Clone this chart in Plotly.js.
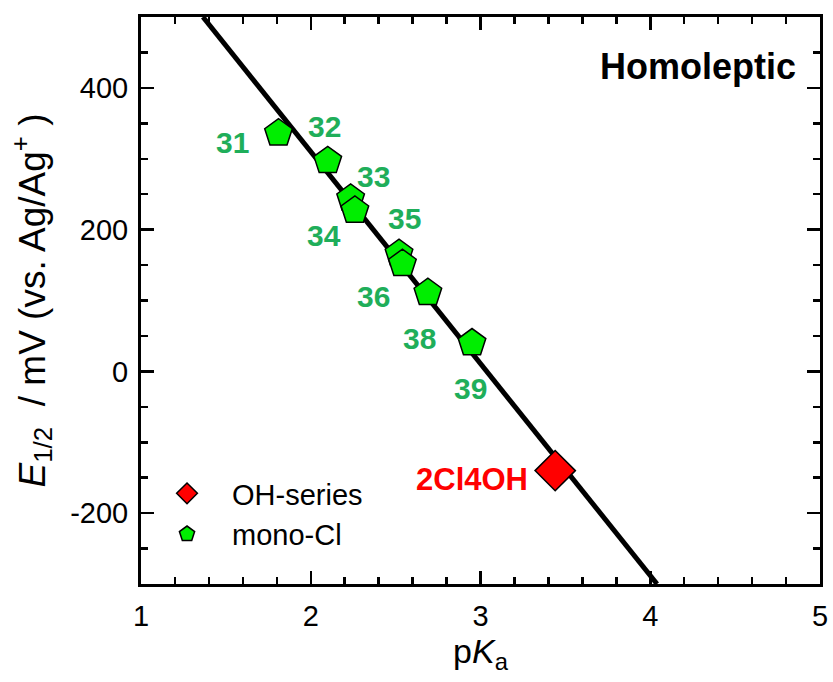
<!DOCTYPE html>
<html>
<head>
<meta charset="utf-8">
<script src="https://cdn.plot.ly/plotly-3.0.1.min.js"></script>
<style>html,body{margin:0;padding:0;background:#fff;}#chart{width:833px;height:682px;}</style>
</head>
<body>
<div id="chart"></div>
<script>
// Data
const monoClLabels = ["31", "32", "33", "34", "35", "36", "38", "39"];
const monoClPKa = [1.81, 2.10, 2.235, 2.26, 2.52, 2.54, 2.69, 2.95];
const monoClE = [336, 297, 244, 227, 166, 152, 111, 40];
const ohLabels = ["2Cl4OH"];
const ohPKa = [3.44];
const ohE = [-140];
const fitPKa = [1.365, 4.04];
const fitE = [500, -300];
// label anchor positions (data units)
const monoClLabelX = [1.54, 2.08, 2.37, 2.08, 2.55, 2.37, 2.64, 2.94];
const monoClLabelY = [323, 345, 275, 192, 216, 106, 47, -24];
const ohLabelX = [2.95];
const ohLabelY = [-153];
const yTickVals = [-200, 0, 200, 400];
const yTickText = ["-200", "0", "200", "400"];

const font = "Liberation Sans, Arial, Helvetica, sans-serif";
const green = "#1fae5a";

const traces = [
  {x: fitPKa, y: fitE, mode: "lines", line: {color: "#000", width: 5}, showlegend: false, hoverinfo: "skip"},
  {x: ohPKa, y: ohE, mode: "markers", name: "OH-series",
   marker: {symbol: "diamond", size: 31, color: "#ff0000", line: {color: "#000", width: 1.5}}},
  {x: monoClPKa, y: monoClE, mode: "markers", name: "mono-Cl",
   marker: {symbol: "pentagon", size: 29, color: "#00ee00", line: {color: "#000", width: 1.5}}}
];

const annotations = [];
monoClLabels.forEach((t, i) => annotations.push({
  x: monoClLabelX[i], y: monoClLabelY[i], text: "<b>" + t + "</b>", showarrow: false,
  font: {family: font, size: 30, color: green}
}));
ohLabels.forEach((t, i) => annotations.push({
  x: ohLabelX[i], y: ohLabelY[i], text: "<b>" + t + "</b>", showarrow: false,
  font: {family: font, size: 31, color: "#ff0000"}
}));
annotations.push({
  xref: "paper", yref: "paper", x: 0.968, y: 0.913, xanchor: "right", yanchor: "middle",
  text: "<b>Homoleptic</b>", showarrow: false, font: {family: font, size: 36, color: "#000"}
});

const axisCommon = {
  showline: true, linecolor: "#000", linewidth: 3, mirror: "ticks",
  ticks: "inside", ticklen: 13, tickwidth: 2.5, tickcolor: "#000",
  showgrid: false, zeroline: false,
  tickfont: {family: font, size: 29, color: "#000"}
};

const layout = {
  width: 833, height: 682,
  margin: {l: 141, r: 13, t: 17, b: 98},
  paper_bgcolor: "#fff", plot_bgcolor: "#fff",
  showlegend: true,
  legend: {x: 0.0015, y: 0.2046, xanchor: "left", yanchor: "top",
           font: {family: font, size: 29, color: "#000"}, bgcolor: "rgba(0,0,0,0)",
           itemsizing: "trace", itemwidth: 80, tracegroupgap: 0},
  xaxis: Object.assign({}, axisCommon, {
    range: [1, 5], dtick: 1, tick0: 1,
    minor: {dtick: 0.2, ticks: "inside", ticklen: 7, tickwidth: 2.5, tickcolor: "#000", showgrid: false},
    ticklabelstandoff: 4,
    title: {text: "p<i>K</i><sub>a</sub>", font: {family: font, size: 34, color: "#000"}, standoff: 6}
  }),
  yaxis: Object.assign({}, axisCommon, {
    range: [-300, 500], tickmode: "array", tickvals: yTickVals, ticktext: yTickText,
    minor: {dtick: 50, tick0: 0, ticks: "inside", ticklen: 7, tickwidth: 2.5, tickcolor: "#000", showgrid: false},
    ticklabelstandoff: 4,
    title: {text: "<i>E</i><sub>1/2</sub>  / mV (vs. Ag/Ag<sup>+</sup> )", font: {family: font, size: 37, color: "#000"}, standoff: 14}
  }),
  annotations: annotations
};

Plotly.newPlot("chart", traces, layout, {displayModeBar: false, staticPlot: true});
</script>
</body>
</html>
